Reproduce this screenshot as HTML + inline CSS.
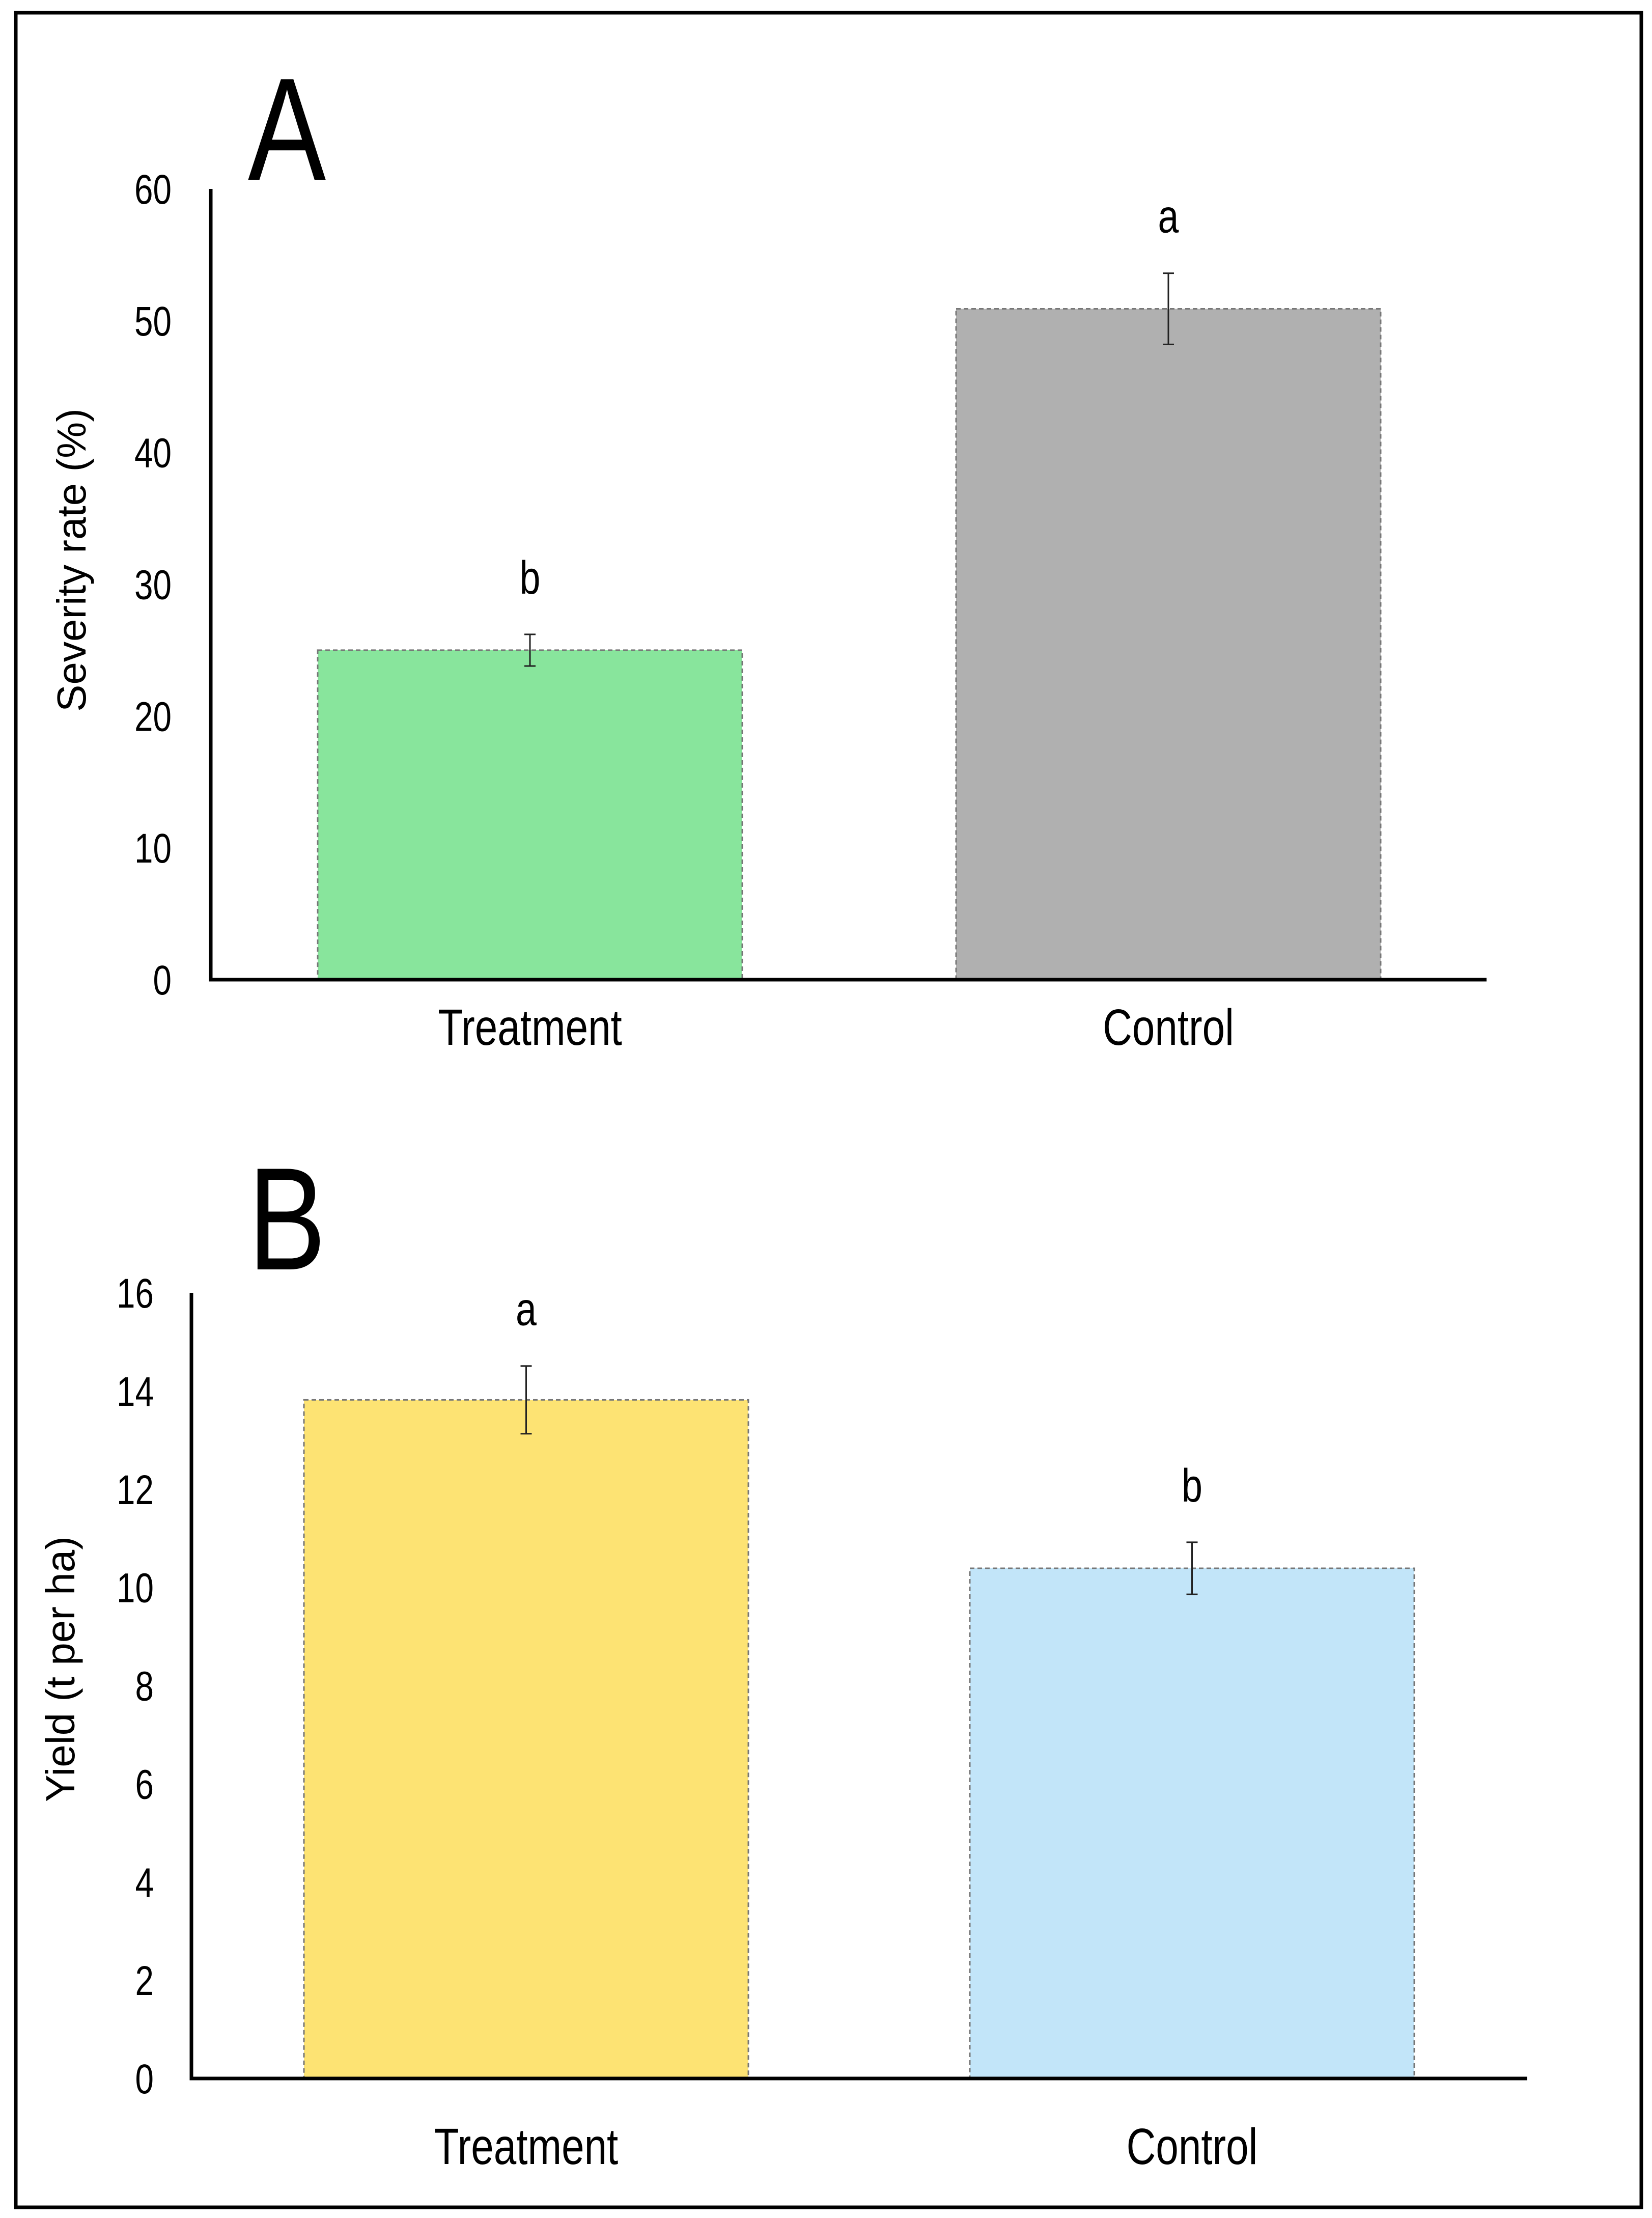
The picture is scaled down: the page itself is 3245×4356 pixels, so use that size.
<!DOCTYPE html>
<html><head><meta charset="utf-8"><style>
html,body{margin:0;padding:0;background:#fff}
svg{display:block}
.n{font-family:"Liberation Sans Narrow","Liberation Sans",sans-serif;fill:#000}
.r{font-family:"Liberation Sans",sans-serif;fill:#000}
</style></head><body>
<svg id="chart" width="3245" height="4356" viewBox="0 0 3245 4356" xmlns="http://www.w3.org/2000/svg">
<rect x="31" y="25" width="3193" height="4310" fill="#fff" stroke="#000" stroke-width="7"/>
<g id="gA"></g>
<g id="gB"></g>
</svg>
<script>
const categories = ["Treatment", "Control"];
const severityValues = [25.0, 50.9];
const severityErrors = [1.2, 2.7];
const severityLetters = ["b", "a"];
const severityTicks = [0, 10, 20, 30, 40, 50, 60];
const yieldValues = [13.82, 10.39];
const yieldErrors = [0.69, 0.53];
const yieldLetters = ["a", "b"];
const yieldTicks = [0, 2, 4, 6, 8, 10, 12, 14, 16];

const NS = "http://www.w3.org/2000/svg";
const SX = 0.8;
function mk(parent, tag, attrs, text) {
  const e = document.createElementNS(NS, tag);
  for (const k in attrs) e.setAttribute(k, attrs[k]);
  if (text !== undefined) e.textContent = text;
  parent.appendChild(e);
  return e;
}
function ntext(parent, x, y, size, anchor, str) {
  return mk(parent, "text", {x: 0, y: 0, "font-size": size, "text-anchor": anchor, class: "n",
    transform: `translate(${x} ${y}) scale(${SX} 1)`}, str);
}

function drawPanel(g, cfg) {
  const yScale = v => cfg.base - (v / cfg.max) * (cfg.base - cfg.top);
  const L = ntext(g, cfg.letterX, cfg.letterY, 287, "start", cfg.letter);
  
  
  cfg.ticks.forEach(t => {
    const e = ntext(g, cfg.tickRight, yScale(t) + 29, 82, "end", t);
    
    
  });
  const yt = mk(g, "text", {x: cfg.titleX, y: cfg.titleY, "font-size": 80, "text-anchor": "middle", class: "r",
    transform: `rotate(-90 ${cfg.titleX} ${cfg.titleY})`, dy: 28}, cfg.title);
  
  
  cfg.values.forEach((v, i) => {
    const x0 = cfg.barX[i], w = cfg.barW;
    const r = mk(g, "rect", {x: x0, y: yScale(v), width: w, height: cfg.base - yScale(v), fill: cfg.colors[i],
      stroke: "#777", "stroke-width": 3, "stroke-dasharray": "9 6"});
    
    
    const cx = x0 + w / 2;
    const hi = yScale(v + cfg.errors[i]), lo = yScale(v - cfg.errors[i]);
    const eb = mk(g, "path", {d: `M${cx},${hi}V${lo}M${cx-11},${hi}H${cx+11}M${cx-11},${lo}H${cx+11}`, stroke: "#222", "stroke-width": 3, fill: "none"});
    
    
    const lt = ntext(g, cx, hi - 80, 92, "middle", cfg.letters[i]);
    
    
    const cl = ntext(g, cx, cfg.catY, 100, "middle", categories[i]);
    
    
  });
  const ax = mk(g, "path", {d: `M${cfg.axisX},${cfg.top}V${cfg.base}H${cfg.axisEnd}`, stroke: "#000", "stroke-width": 7, fill: "none"});
  
  
}

drawPanel(document.getElementById("gA"), {
  letter: "A", letterX: 487, letterY: 353, max: 60, top: 371, base: 1924, axisX: 414, axisEnd: 2920,
  ticks: severityTicks, tickRight: 337, title: "Severity rate (%)", titleX: 140, titleY: 1100,
  values: severityValues, errors: severityErrors, letters: severityLetters,
  barX: [624, 1878], barW: 834, colors: ["#88e59c", "#b0b0b0"], catY: 2052
});
drawPanel(document.getElementById("gB"), {
  letter: "B", letterX: 487, letterY: 2493, max: 16, top: 2539, base: 4082, axisX: 376, axisEnd: 3000,
  ticks: yieldTicks, tickRight: 302, title: "Yield (t per ha)", titleX: 118, titleY: 3278,
  values: yieldValues, errors: yieldErrors, letters: yieldLetters,
  barX: [597, 1905], barW: 873, colors: ["#fde373", "#c2e5f9"], catY: 4250
});
</script>
</body></html>
